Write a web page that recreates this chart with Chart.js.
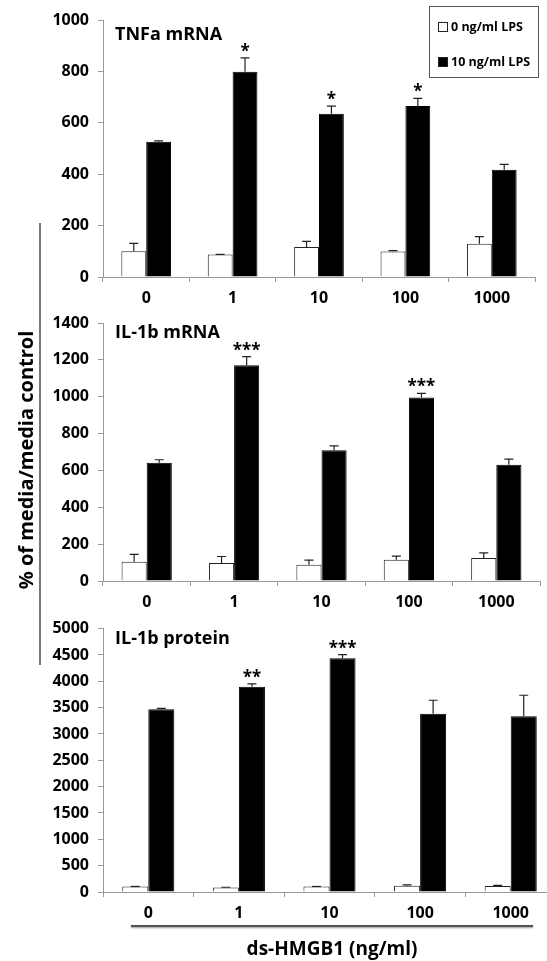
<!DOCTYPE html>
<html>
<head>
<meta charset="utf-8">
<script src="https://cdn.jsdelivr.net/npm/chart.js@4.4.0/dist/chart.umd.min.js"></script>
<style>
  body { margin: 0; background: #fff; }
  #page { position: relative; width: 547px; height: 961px; overflow: hidden; font-family: "Open Sans", sans-serif; }
  canvas { position: absolute; left: 0; }
  #legend { position: absolute; left: 429px; top: 6px; width: 108px; height: 70px; border: 1px solid #555; font-weight: bold; font-size: 12.5px; }
  .item { position: absolute; left: 8px; height: 14px; line-height: 14px; white-space: nowrap; }
  .swatch { display: inline-block; width: 8px; height: 8px; border: 1px solid #222; margin-right: 3px; vertical-align: -1px; }
  #yTitle { position: absolute; left: 25px; top: 460px; transform: translate(-50%, -50%) rotate(-90deg); font-weight: bold; font-size: 20px; white-space: nowrap; }
  #yLine { position: absolute; left: 39px; top: 223px; width: 2px; height: 442px; background: #777; }
  #xTitle { position: absolute; left: 332px; top: 948px; transform: translate(-50%, -50%); font-weight: bold; font-size: 19px; white-space: nowrap; }
  #xLine { position: absolute; left: 131px; top: 925px; width: 402px; height: 2px; background: #555; box-shadow: 0 1px 2px #999; }
</style>
</head>
<body>
<div id="page">
  <canvas id="tnfChart" width="560" height="320" style="top:0px"></canvas>
  <canvas id="ilMrnaChart" width="560" height="320" style="top:300px"></canvas>
  <canvas id="ilProteinChart" width="560" height="351" style="top:610px"></canvas>

  <div id="legend">
    <div class="item" style="top:13px"><span class="swatch" style="background:#fff"></span>0 ng/ml LPS</div>
    <div class="item" style="top:48px"><span class="swatch" style="background:#000"></span>10 ng/ml LPS</div>
  </div>
  <div id="yLine"></div>
  <div id="yTitle">% of media/media control</div>
  <div id="xLine"></div>
  <div id="xTitle">ds-HMGB1 (ng/ml)</div>
</div>

<script>
// ---------- Data ----------
const doses = ["0", "1", "10", "100", "1000"];

// TNFa mRNA
const tnfCtrl = [100, 88, 117, 99, 129];
const tnfCtrlErr = [31, 0, 22, 4, 28];
const tnfLps = [526, 799, 635, 665, 417];
const tnfLpsErr = [4, 54, 30, 30, 21];
const tnfStars = ["", "*", "*", "*", ""];

// IL-1b mRNA
const ilMrnaCtrl = [105, 98, 88, 115, 125];
const ilMrnaCtrlErr = [40, 35, 25, 20, 28];
const ilMrnaLps = [641, 1171, 710, 996, 631];
const ilMrnaLpsErr = [17, 47, 23, 22, 30];
const ilMrnaStars = ["", "***", "", "***", ""];

// IL-1b protein
const ilProtCtrl = [105, 85, 105, 120, 115];
const ilProtCtrlErr = [0, 5, 0, 15, 10];
const ilProtLps = [3470, 3895, 4435, 3385, 3335];
const ilProtLpsErr = [15, 55, 70, 255, 400];
const ilProtStars = ["", "**", "***", "", ""];

Chart.defaults.font.family = "'Open Sans', sans-serif";
Chart.defaults.font.weight = "bold";
Chart.defaults.color = "#000";

// draws error bars, significance stars and the panel title
const extrasPlugin = {
  id: "extras",
  afterDatasetsDraw(chart, args, opts) {
    const ctx = chart.ctx;
    const y = chart.scales.y;
    ctx.save();
    chart.data.datasets.forEach((ds, i) => {
      const meta = chart.getDatasetMeta(i);
      meta.data.forEach((bar, j) => {
        const top = y.getPixelForValue(ds.data[j] + ds.errors[j]);
        ctx.strokeStyle = "#222";
        ctx.lineWidth = 1.2;
        ctx.beginPath();
        ctx.moveTo(bar.x, bar.y);
        ctx.lineTo(bar.x, top);
        ctx.moveTo(bar.x - 4.5, top);
        ctx.lineTo(bar.x + 4.5, top);
        ctx.stroke();
        if (ds.stars && ds.stars[j]) {
          ctx.fillStyle = "#000";
          ctx.font = "bold 17px 'Open Sans'";
          ctx.textAlign = "center";
          ctx.textBaseline = "alphabetic";
          ctx.fillText(ds.stars[j], bar.x, top - 1);
        }
      });
    });
    ctx.fillStyle = "#000";
    ctx.font = "bold 18px 'Open Sans'";
    ctx.textAlign = "left";
    ctx.textBaseline = "middle";
    ctx.fillText(opts.title, chart.chartArea.left + 12, opts.titleY);
    ctx.restore();
  },
};

function makePanel(id, title, titleY, ctrl, ctrlErr, lps, lpsErr, stars, yMax, yStep, padTop, padRight, xHeight) {
  new Chart(document.getElementById(id), {
    type: "bar",
    data: {
      labels: doses,
      datasets: [
        {
          label: "0 ng/ml LPS",
          data: ctrl,
          errors: ctrlErr,
          backgroundColor: "#fff",
          borderColor: "#222",
          borderWidth: 1,
        },
        {
          label: "10 ng/ml LPS",
          data: lps,
          errors: lpsErr,
          stars: stars,
          backgroundColor: "#000",
          borderColor: "#000",
          borderWidth: 1,
        },
      ],
    },
    options: {
      responsive: false,
      animation: false,
      barPercentage: 1,
      categoryPercentage: 0.575,
      layout: { padding: { top: padTop, right: padRight, left: 0, bottom: 0 } },
      plugins: {
        legend: { display: false },
        tooltip: { enabled: false },
        extras: { title: title, titleY: titleY },
      },
      scales: {
        x: {
          grid: { offset: true, drawOnChartArea: false, tickLength: 5, color: "#999" },
          border: { color: "#999" },
          ticks: { font: { size: 16, weight: "bold" }, padding: 7 },
          afterFit: (scale) => { scale.height = xHeight; },
        },
        y: {
          min: 0,
          max: yMax,
          grid: { drawOnChartArea: false, tickLength: 5, color: "#999" },
          border: { color: "#999" },
          ticks: { stepSize: yStep, font: { size: 16, weight: "bold" }, padding: 9, callback: (v) => String(v) },
          afterFit: (scale) => { scale.width = 103; },
        },
      },
    },
    plugins: [extrasPlugin],
  });
}

makePanel("tnfChart", "TNFa mRNA", 35, tnfCtrl, tnfCtrlErr, tnfLps, tnfLpsErr, tnfStars, 1000, 200, 20, 25, 43);
makePanel("ilMrnaChart", "IL-1b mRNA", 33, ilMrnaCtrl, ilMrnaCtrlErr, ilMrnaLps, ilMrnaLpsErr, ilMrnaStars, 1400, 200, 23, 20, 39);
makePanel("ilProteinChart", "IL-1b protein", 29, ilProtCtrl, ilProtCtrlErr, ilProtLps, ilProtLpsErr, ilProtStars, 5000, 500, 16, 4, 69);
</script>
</body>
</html>
